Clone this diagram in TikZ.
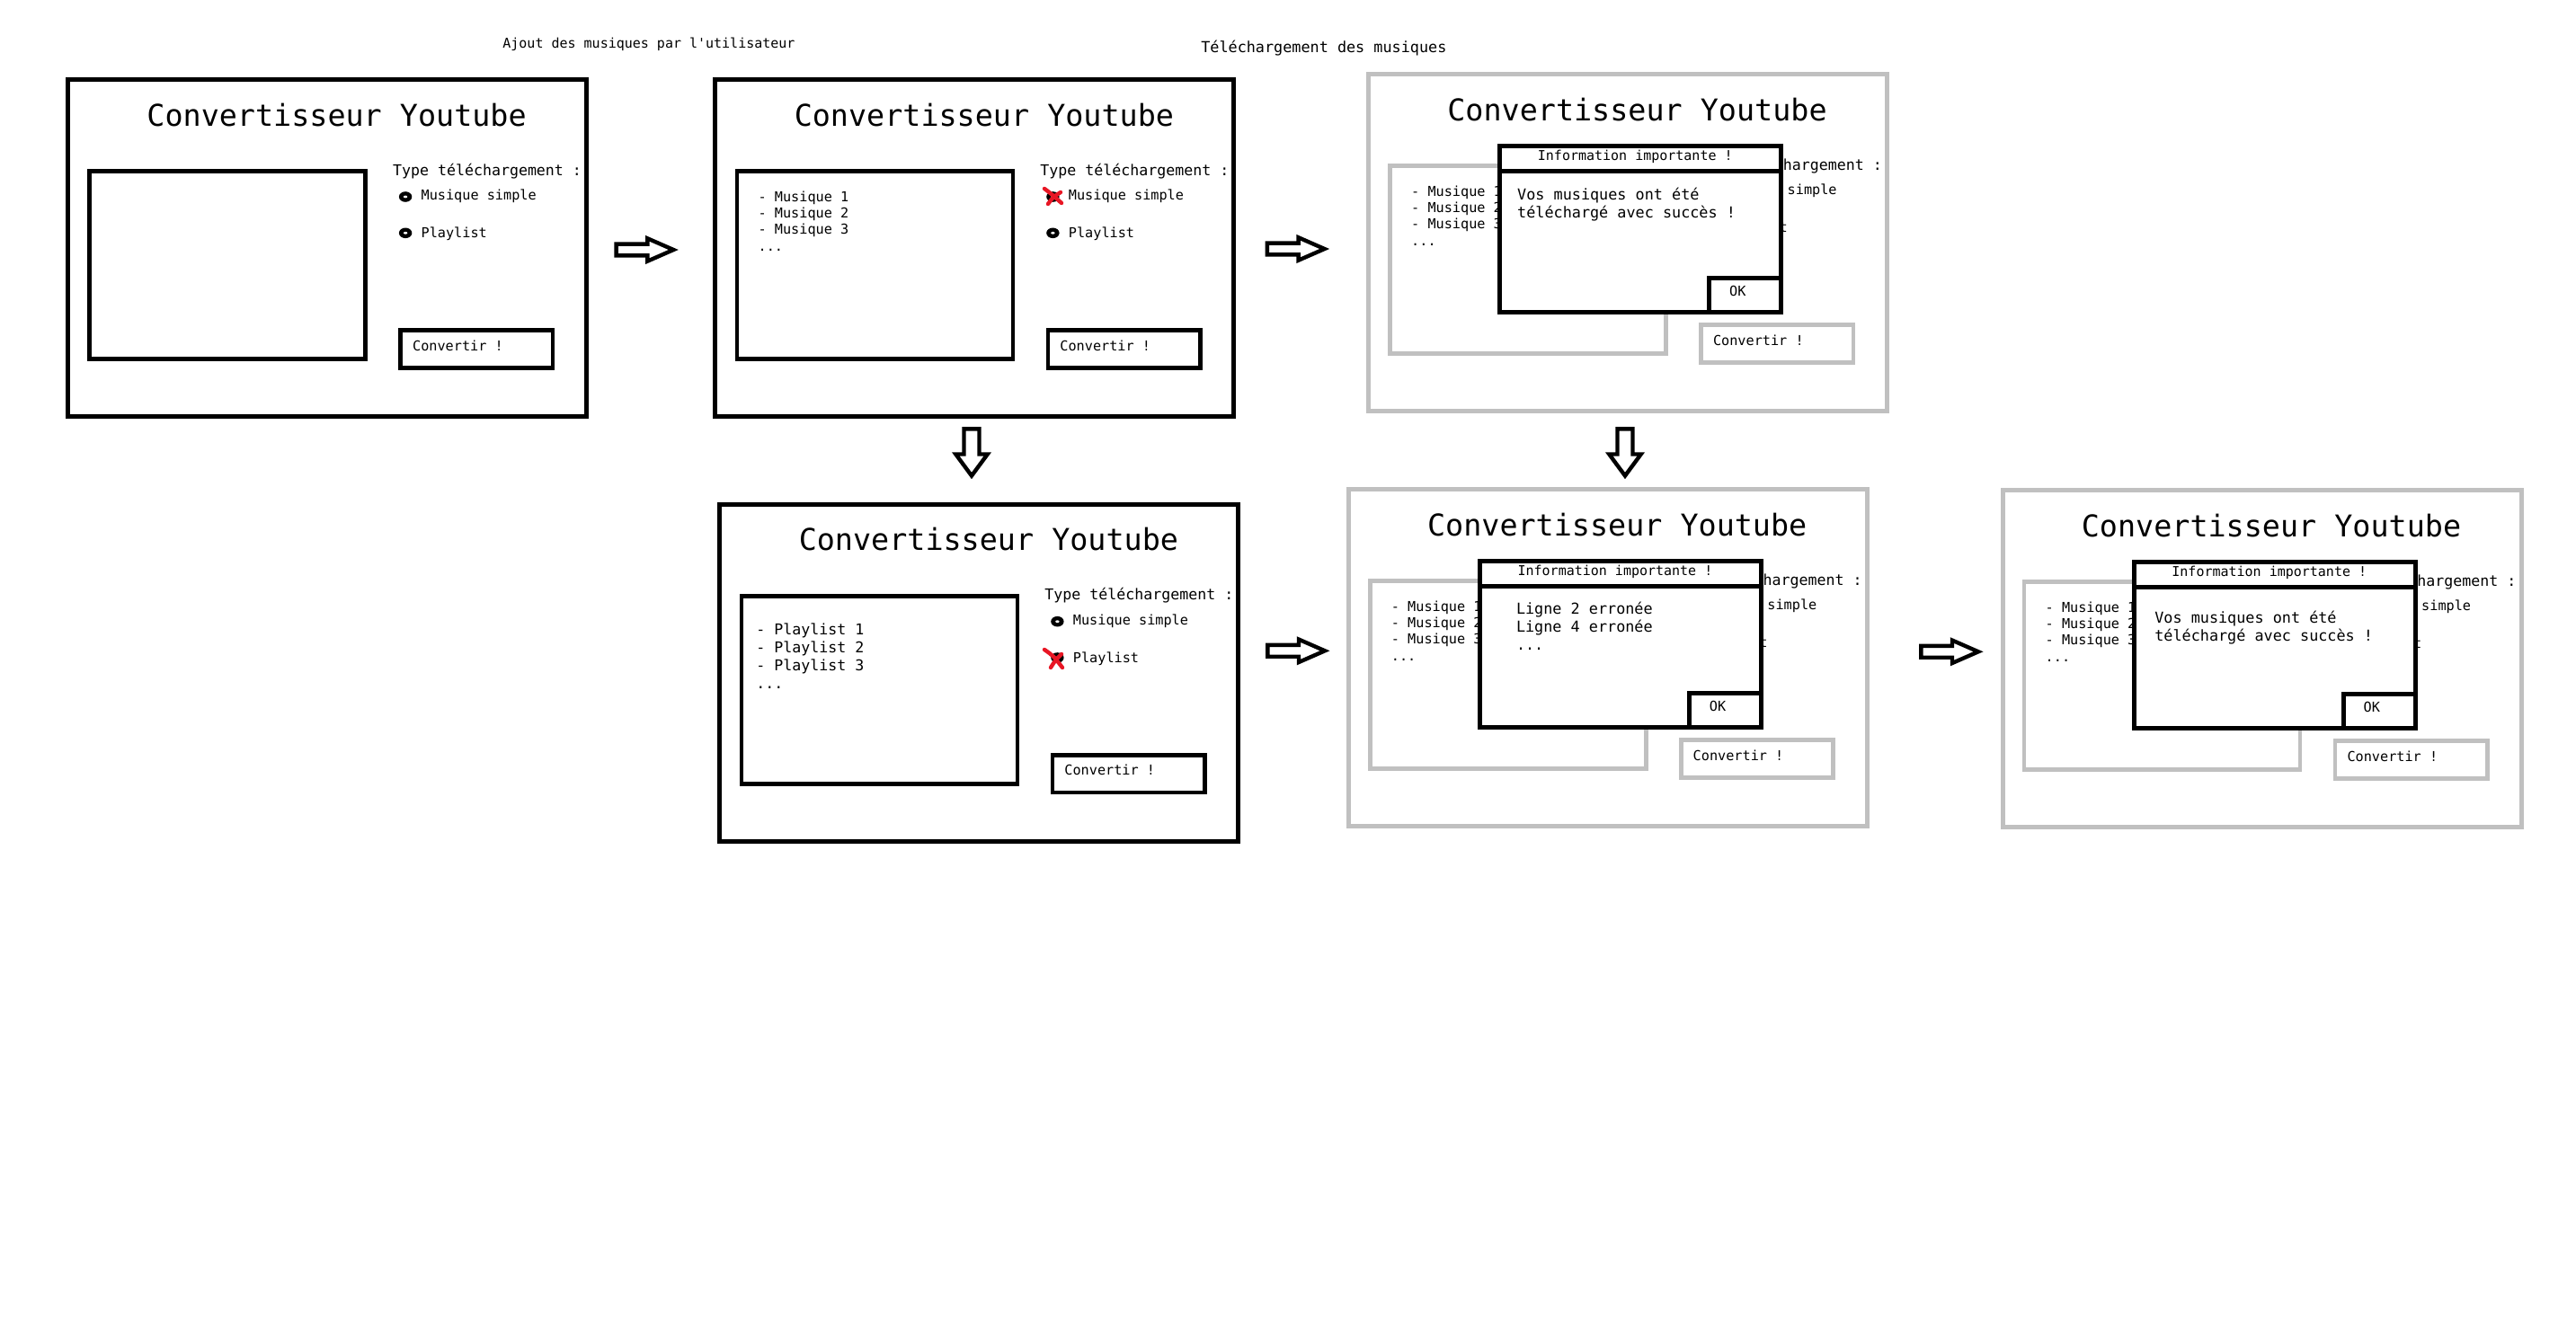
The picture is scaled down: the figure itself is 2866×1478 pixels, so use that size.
\documentclass[tikz,border=0pt]{standalone}
\usepackage{fontspec}
\newfontfamily\mono{DejaVu Sans Mono}[Ligatures=TeXOff]
\definecolor{boxgray}{RGB}{192,192,192}
\definecolor{xred}{RGB}{232,22,36}
\tikzset{
  every node/.style={inner sep=0pt, outer sep=0pt},
  tbase/.style={anchor=base west, text=black},
  ftitle/.style={anchor=base, font=\mono\fontsize{16.7}{20}\selectfont},
  fa/.style={tbase, font=\mono\fontsize{8.3}{10}\selectfont},
  fb/.style={tbase, font=\mono\fontsize{7.6}{9}\selectfont},
  fc/.style={tbase, font=\mono\fontsize{7.5}{9}\selectfont},
  fd/.style={tbase, font=\mono\fontsize{8.4}{10}\selectfont},
  thickline/.style={line width=2.5pt, line join=miter},
  boxline/.style={line width=2.3pt},
  arrowshape/.style={line width=2.2pt, line join=miter, draw=black, fill=white},
  xmark/.style={draw=xred, line width=2.2pt, line cap=round},
}
\newcommand\mywindow[3]{%
\begin{scope}[shift={#1}]
  \draw[thickline, draw=#2] (2.5,2.5) rectangle (579.5,377.5);
  \draw[boxline, draw=#2] (26.5,104.5) rectangle (333.5,313.5);
  \draw[boxline, draw=#2] (372.5,281.5) rectangle (542,323.2);
  \node[ftitle] (#3-title) at (301.5,54) {Convertisseur Youtube};
  \node[fa] (#3-type) at (364,109) {Type téléchargement :};
  \fill (378,133) ellipse [x radius=3.6pt, y radius=2.9pt];
  \fill[white] (378,133) ellipse [x radius=1.1pt, y radius=0.7pt];
  \fill (378,173.3) ellipse [x radius=3.6pt, y radius=2.9pt];
  \fill[white] (378,173.3) ellipse [x radius=1.1pt, y radius=0.7pt];
  \node[fb] (#3-opt1) at (395.5,136.7) {Musique simple};
  \node[fb] (#3-opt2) at (395.5,178.3) {Playlist};
  \node[fb] (#3-conv) at (386,304) {Convertir !};
\end{scope}}
\newcommand\musiclist[2]{%
\begin{scope}[shift={#1}]
  \node[fb] (#2-l1) at (50.2,138.5) {- Musique 1};
  \node[fb] (#2-l2) at (50.2,156.5) {- Musique 2};
  \node[fb] (#2-l3) at (50.2,174.5) {- Musique 3};
  \node[fb] (#2-l4) at (50.2,193) {...};
\end{scope}}
\newcommand\mydialog[2]{%
\begin{scope}[shift={#1}]
  \filldraw[thickline, fill=white] (148.7,82.5) rectangle (461.7,267.5);
  \draw[thickline] (148.7,110) -- (461.7,110);
  \draw[thickline] (381.9,267.5) -- (381.9,229.8) -- (461.7,229.8);
  \node[fc] (#2-head) at (190.9,98.3) {Information importante !};
  \node[fb] (#2-ok) at (404.2,249.3) {OK};
\end{scope}}
\newcommand\rarrow[1]{%
\begin{scope}[shift={#1}]
  \draw[arrowshape] (2.3,-6.4) -- (37,-6.4) -- (37,-12.7) -- (66,0) -- (37,12.7) -- (37,6.4) -- (2.3,6.4) -- cycle;
\end{scope}}
\newcommand\darrow[1]{%
\begin{scope}[shift={#1}]
  \draw[arrowshape] (-8.5,2.3) -- (8.5,2.3) -- (8.5,30.5) -- (17.7,30.5) -- (0,54.5) -- (-17.7,30.5) -- (-8.5,30.5) -- cycle;
\end{scope}}
\begin{document}
\begin{tikzpicture}[x=0.5pt, y=-0.5pt]
\useasboundingbox (0,0) rectangle (2866,1478);
\fill[white] (0,0) rectangle (2866,1478);

% headings
\node[fc] (h1) at (559.4,53.5) {Ajout des musiques par l'utilisateur};
\node[fd] (h2) at (1336.3,58.5) {Téléchargement des musiques};

% window A
\mywindow{(73.1,86)}{black}{A}

% window B
\mywindow{(793.4,86)}{black}{B}
\musiclist{(793.4,86)}{B}
\draw[xmark] (1162,210) .. controls (1170,216) .. (1181,226);
\draw[xmark] (1180,214) .. controls (1172,219) .. (1166,227);

% window C (gray, with dialog)
\mywindow{(1520,80)}{boxgray}{C}
\musiclist{(1520,80)}{C}
\mydialog{(1520,80)}{Cd}
\begin{scope}[shift={(1520,80)}]
  \node[fd] (Cd-t1) at (168.2,142) {Vos musiques ont été};
  \node[fd] (Cd-t2) at (168.2,162) {téléchargé avec succès !};
\end{scope}

% window D
\mywindow{(798.4,558.7)}{black}{D}
\draw[xmark] (1162,723) .. controls (1172,730) .. (1182,743);
\draw[xmark] (1181,728) .. controls (1174,735) .. (1169,743);
\begin{scope}[shift={(798.4,558.7)}]
  \node[fa] (D-l1) at (43,148) {- Playlist 1};
  \node[fa] (D-l2) at (43,168) {- Playlist 2};
  \node[fa] (D-l3) at (43,188) {- Playlist 3};
  \node[fa] (D-l4) at (43,208) {...};
\end{scope}

% window E
\mywindow{(1497.7,542)}{boxgray}{E}
\musiclist{(1497.7,542)}{E}
\mydialog{(1497.7,542)}{Ed}
\begin{scope}[shift={(1497.7,542)}]
  \node[fd] (Ed-t1) at (189.3,141) {Ligne 2 erronée};
  \node[fd] (Ed-t2) at (189.3,161) {Ligne 4 erronée};
  \node[fd] (Ed-t3) at (189.3,181) {...};
\end{scope}

% window F
\mywindow{(2225.5,543)}{boxgray}{F}
\musiclist{(2225.5,543)}{F}
\mydialog{(2225.5,543)}{Fd}
\begin{scope}[shift={(2225.5,543)}]
  \node[fd] (Fd-t1) at (171.8,150.3) {Vos musiques ont été};
  \node[fd] (Fd-t2) at (171.8,170.3) {téléchargé avec succès !};
\end{scope}

% arrows
\rarrow{(683.3,278)}
\rarrow{(1407.6,277)}
\rarrow{(1408,724.3)}
\rarrow{(2135,725.3)}
\darrow{(1081,475)}
\darrow{(1808,475)}
\end{tikzpicture}
\end{document}
